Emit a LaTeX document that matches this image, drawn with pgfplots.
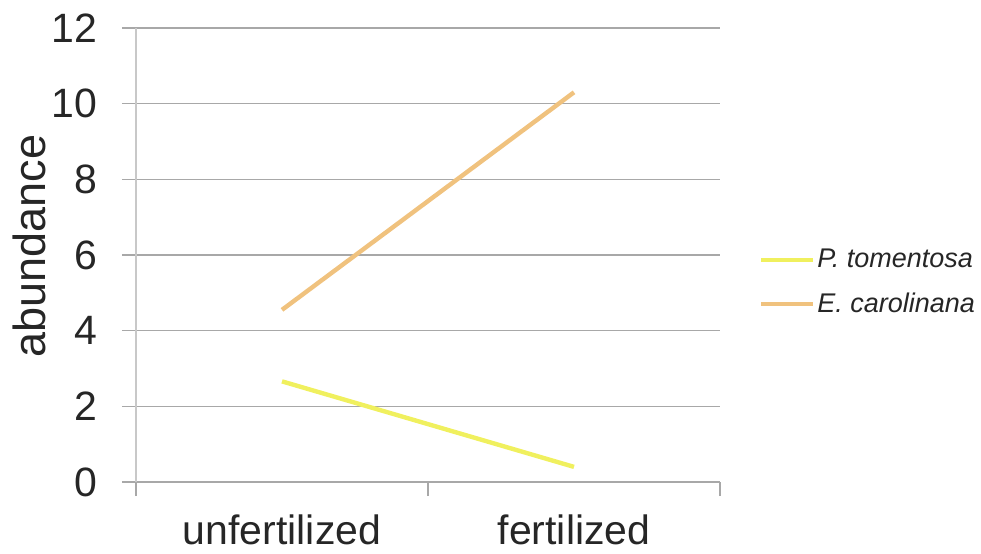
\documentclass[border=0pt]{standalone}
\usepackage{fontspec}
\setmainfont{Liberation Sans}
\usepackage{pgfplots}
\pgfplotsset{compat=1.18}
\definecolor{serYel}{HTML}{F0F05E}
\definecolor{serOra}{HTML}{F0C27E}
\definecolor{gridGr}{HTML}{A8A8A8}
\definecolor{axGr}{HTML}{C8C8C8}
\begin{document}
\begin{tikzpicture}
\useasboundingbox (-68pt,-35.5pt) rectangle (422.5pt,241pt);
\begin{axis}[
  at={(0pt,0pt)}, anchor=south west,
  scale only axis, width=292pt, height=227pt,
  xmin=-0.5, xmax=1.5, ymin=0, ymax=12,
  ytick={0,2,...,12},
  xtick={-0.5,0.5,1.5}, xticklabels={},
  extra x ticks={0,1}, extra x tick labels={unfertilized,fertilized},
  extra x tick style={major tick length=0pt, tick style={draw=none}},
  axis lines*=left,
  x axis line style={draw=gridGr, line width=0.8pt},
  y axis line style={draw=axGr, line width=0.8pt},
  tick style={draw=gridGr, line width=0.8pt},
  major tick length=7pt, tick align=outside,
  ymajorgrids, grid style={gridGr, line width=0.8pt},
  /pgf/number format/assume math mode=true,
  tick label style={font=\fontsize{20.5}{24}\selectfont, black!85},
  yticklabel style={xshift=-9pt},
  xticklabel style={yshift=-13pt},
  ylabel={abundance},
  every axis y label/.style={at={(axis description cs:-0.182,0.52)}, rotate=90, anchor=center,
    font=\fontsize{22.5}{26}\selectfont, text=black!85},
  legend style={at={(1.066,0.44)}, anchor=west, draw=none, fill=none, inner sep=0pt,
    font=\fontsize{13.5}{15}\selectfont\itshape, text=black!85, row sep=9pt,
    nodes={inner sep=1pt}},
  legend cell align=left,
  legend image code/.code={\draw[#1] plot coordinates {(0pt,0pt) (26pt,0pt)};},
  clip=false,
]
\addplot[serYel, line width=2.2pt] coordinates {(0,2.66) (1,0.40)};
\addlegendentry{P. tomentosa}
\addplot[serOra, line width=2.2pt] coordinates {(0,4.55) (1,10.30)};
\addlegendentry{E. carolinana}
\end{axis}
\end{tikzpicture}
\end{document}
